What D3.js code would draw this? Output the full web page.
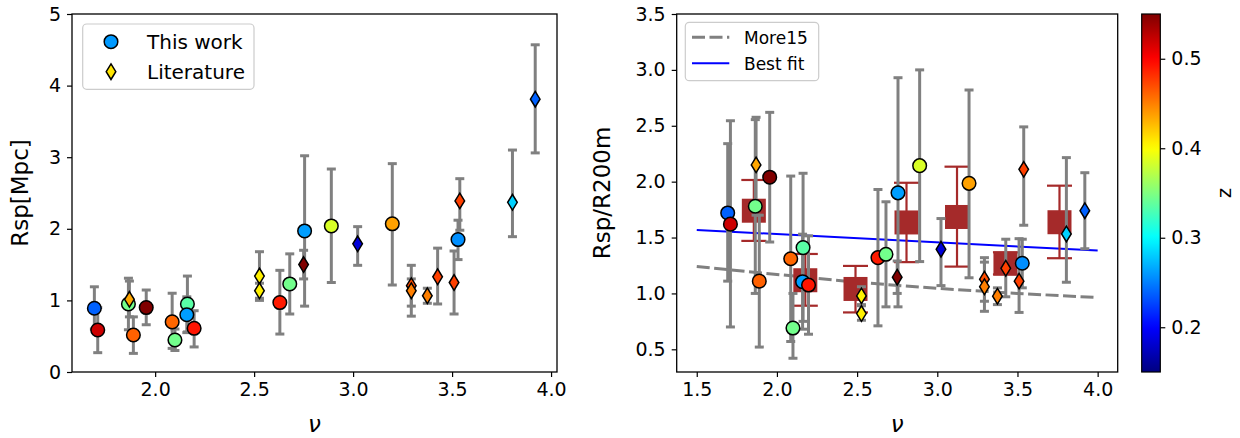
<!DOCTYPE html>
<html><head><meta charset="utf-8">
<script src="https://cdn.jsdelivr.net/npm/d3@7"></script>
<style>
body{margin:0;background:#fff;}
svg text{font-family:"DejaVu Sans",sans-serif;}
</style></head>
<body><svg id="c" width="1240" height="438"></svg>
<script>
// ---- data ----
const kind = ["c","c","c","d","c","c","c","c","c","c","c","d","d","c","c","c","d","c","d","c","d","d","d","d","d","d","c","d","d"];
const nu   = [1.693,1.71,1.865,1.87,1.89,1.955,2.086,2.10,2.163,2.16,2.197,2.527,2.527,2.63,2.68,2.755,2.75,2.89,3.023,3.198,3.294,3.294,3.375,3.427,3.51,3.539,3.53,3.805,3.92];
const zval = [0.238,0.52,0.345,0.435,0.462,0.55,0.46,0.345,0.335,0.262,0.492,0.406,0.406,0.49,0.345,0.262,0.55,0.385,0.185,0.437,0.47,0.45,0.45,0.475,0.475,0.475,0.256,0.282,0.238];
const rspMpc   = [0.89,0.587,0.95,1.015,0.517,0.90,0.70,0.447,0.95,0.80,0.61,1.34,1.135,0.97,1.23,1.97,1.50,2.04,1.79,2.07,1.205,1.135,1.065,1.33,1.25,2.39,1.85,2.37,3.81];
const rspMpcLo = [0.60,0.27,0.59,0.77,0.26,0.66,0.33,0.30,0.56,0.55,0.35,1.00,1.03,0.53,0.81,0.92,1.30,1.25,1.49,1.215,0.92,0.78,0.96,0.95,0.81,1.98,1.57,1.89,3.06];
const rspMpcHi = [1.19,0.90,1.31,1.27,0.77,1.145,1.10,0.60,1.34,1.05,0.856,1.68,1.24,1.42,1.65,3.02,1.70,2.835,2.03,2.91,1.49,1.30,1.17,1.73,1.69,2.70,2.12,3.10,4.57];
const rspR  = [1.72,1.62,1.78,2.15,1.11,2.04,1.31,0.69,1.41,1.105,1.075,0.978,0.82,1.32,1.35,1.90,1.145,2.143,1.395,1.985,1.127,1.06,0.975,1.225,1.11,2.11,1.27,1.532,1.74];
const rspRLo= [1.11,0.70,1.00,1.70,0.52,1.46,0.57,0.42,0.75,0.68,0.635,0.90,0.76,0.71,0.88,0.88,1.00,1.285,1.07,1.14,0.93,0.84,0.90,0.97,0.83,1.61,1.05,1.10,1.40];
const rspRHi= [2.34,2.545,2.555,2.576,1.70,2.62,2.05,1.00,2.075,1.53,1.515,1.06,0.89,1.93,1.82,2.93,1.29,3.00,1.67,2.82,1.32,1.28,1.05,1.485,1.49,2.49,1.485,2.215,2.08];
const binNu = [1.856,2.177,2.49,2.808,3.123,3.425,3.762];
const binR  = [1.74,1.118,1.04,1.635,1.684,1.267,1.637];
const binLo = [1.47,0.89,0.83,1.28,1.24,1.17,1.315];
const binHi = [2.015,1.353,1.246,1.99,2.134,1.368,1.964];
const more15Nu = [1.5,2.0,2.5,3.0,3.5,4.0];
const more15R  = [1.24,1.17,1.10,1.045,1.0,0.963];
const fitNu = [1.5,4.0];
const fitR  = [1.568,1.383];
const leftYTicks = [0,1,2,3,4,5];
const leftXTicks = [2.0,2.5,3.0,3.5,4.0];
const rightYTicks = [0.5,1.0,1.5,2.0,2.5,3.0,3.5];
const rightXTicks = [1.5,2.0,2.5,3.0,3.5,4.0];
const cbTicks = [0.2,0.3,0.4,0.5];
const zRange = [0.15,0.55];

// ---- jet colormap ----
function jet(f){
  f=Math.max(0,Math.min(1,f));
  const r=Math.max(0,Math.min(1,1.5-Math.abs(4*f-3)));
  const g=Math.max(0,Math.min(1,1.5-Math.abs(4*f-2)));
  const b=Math.max(0,Math.min(1,1.5-Math.abs(4*f-1)));
  return d3.rgb(r*255,g*255,b*255).formatHex();
}
const zNorm = d3.scaleLinear(zRange,[0,1]);
const zColor = z=>jet(zNorm(z));

const svg = d3.select("#c");
const FS = 19;
const LFS = 23;

function panel(x0,x1,y0,y1,xd,yd,xt,yt,xfmt,yfmt,ylabel,ylx){
  const x=d3.scaleLinear(xd,[x0,x1]);
  const y=d3.scaleLinear(yd,[y1,y0]);
  const g=svg.append("g");
  const ax=g.append("g").attr("transform",`translate(0,${y1})`)
    .call(d3.axisBottom(x).tickValues(xt).tickFormat(xfmt).tickSizeOuter(0).tickSize(5).tickPadding(6));
  const ay=g.append("g").attr("transform",`translate(${x0},0)`)
    .call(d3.axisLeft(y).tickValues(yt).tickFormat(yfmt).tickSizeOuter(0).tickSize(5).tickPadding(6));
  [ax,ay].forEach(a=>{a.select(".domain").remove();a.selectAll("line").attr("stroke","#000").attr("stroke-width",1.2);
    a.selectAll("text").attr("font-size",FS).attr("fill","#000").attr("font-family","DejaVu Sans");});
  g.append("text").attr("x",(x0+x1)/2).attr("y",432).attr("text-anchor","middle")
    .attr("font-size",LFS).attr("font-style","italic").text("ν");
  g.append("text").attr("transform",`translate(${ylx},${(y0+y1)/2}) rotate(-90)`).attr("text-anchor","middle")
    .attr("font-size",LFS).text(ylabel);
  return {x,y,g,x0,x1,y0,y1};
}
function frame(p){
  svg.append("rect").attr("x",p.x0).attr("y",p.y0).attr("width",p.x1-p.x0).attr("height",p.y1-p.y0)
    .attr("fill","none").attr("stroke","#000").attr("stroke-width",1.3);
}
function marker(g,k,cx,cy,fill){
  if(k==="c"){
    g.append("circle").attr("cx",cx).attr("cy",cy).attr("r",6.8).attr("fill",fill).attr("stroke","#000").attr("stroke-width",1.5);
  } else {
    g.append("path").attr("d",`M${cx},${cy-7.8}L${cx+4.8},${cy}L${cx},${cy+7.8}L${cx-4.8},${cy}Z`)
      .attr("fill",fill).attr("stroke","#000").attr("stroke-width",1.5);
  }
}
function errbar(g,cx,ylo,yhi,color,lw,cap){
  g.append("line").attr("x1",cx).attr("x2",cx).attr("y1",ylo).attr("y2",yhi).attr("stroke",color).attr("stroke-width",lw);
  [ylo,yhi].forEach(v=>g.append("line").attr("x1",cx-cap/2).attr("x2",cx+cap/2).attr("y1",v).attr("y2",v).attr("stroke",color).attr("stroke-width",lw));
}

// ---- left panel ----
const L = panel(72,557,14,372,[1.58,4.03],[0,5],leftXTicks,leftYTicks,d3.format(".1f"),d3.format("d"),"Rsp[Mpc]",28);
const gl = svg.append("g");
nu.forEach((v,i)=>errbar(gl,L.x(v),L.y(rspMpcLo[i]),L.y(rspMpcHi[i]),"#808080",3,9));
nu.forEach((v,i)=>marker(gl,kind[i],L.x(v),L.y(rspMpc[i]),zColor(zval[i])));
frame(L);

// ---- right panel ----
const R = panel(676.7,1117.7,14,372,[1.375,4.125],[0.297,3.5],rightXTicks,rightYTicks,d3.format(".1f"),d3.format(".1f"),"Rsp/R200m",610);
const gr = svg.append("g");
const line = d3.line().x((d)=>R.x(d[0])).y(d=>R.y(d[1]));
gr.append("path").attr("d",line(more15Nu.map((v,i)=>[v,more15R[i]]))).attr("fill","none")
  .attr("stroke","#808080").attr("stroke-width",3).attr("stroke-dasharray","13,4.5");
gr.append("path").attr("d",line(fitNu.map((v,i)=>[v,fitR[i]]))).attr("fill","none")
  .attr("stroke","#0000ff").attr("stroke-width",2);
binNu.forEach((v,i)=>{
  errbar(gr,R.x(v),R.y(binLo[i]),R.y(binHi[i]),"#a52a2a",2.2,25);
  gr.append("rect").attr("x",R.x(v)-12).attr("y",R.y(binR[i])-12).attr("width",24).attr("height",24).attr("fill","#a52a2a");
});
nu.forEach((v,i)=>errbar(gr,R.x(v),R.y(rspRLo[i]),R.y(rspRHi[i]),"#808080",3,9));
nu.forEach((v,i)=>marker(gr,kind[i],R.x(v),R.y(rspR[i]),zColor(zval[i])));
frame(R);

// ---- legends ----
function legendBox(x,y,w,h){
  svg.append("rect").attr("x",x).attr("y",y).attr("width",w).attr("height",h).attr("rx",4)
    .attr("fill","#fff").attr("fill-opacity",0.8).attr("stroke","#cccccc").attr("stroke-width",1.2);
}
legendBox(82.7,24,171.3,65.3);
marker(svg,"c",111,41.7,zColor(0.26));
marker(svg,"d",111,71.7,zColor(0.41));
svg.append("text").attr("x",147).attr("y",48.5).attr("font-size",20).text("This work");
svg.append("text").attr("x",147).attr("y",78.5).attr("font-size",20).text("Literature");

legendBox(685.3,22.3,133.4,58.4);
svg.append("line").attr("x1",692).attr("x2",729.3).attr("y1",37.3).attr("y2",37.3).attr("stroke","#808080").attr("stroke-width",3).attr("stroke-dasharray","13,4.5");
svg.append("line").attr("x1",692).attr("x2",729.3).attr("y1",63.3).attr("y2",63.3).attr("stroke","#0000ff").attr("stroke-width",2);
svg.append("text").attr("x",744).attr("y",43.5).attr("font-size",17).text("More15");
svg.append("text").attr("x",744).attr("y",69.5).attr("font-size",17).text("Best fit");

// ---- colorbar ----
const cbX0=1141.7, cbX1=1160.3, cbY0=14, cbY1=372;
const defs=svg.append("defs");
const grad=defs.append("linearGradient").attr("id","jetg").attr("x1",0).attr("x2",0).attr("y1",1).attr("y2",0);
d3.range(0,1.0001,0.02).forEach(f=>grad.append("stop").attr("offset",f).attr("stop-color",jet(f)));
svg.append("rect").attr("x",cbX0).attr("y",cbY0).attr("width",cbX1-cbX0).attr("height",cbY1-cbY0).attr("fill","url(#jetg)")
  .attr("stroke","#000").attr("stroke-width",1.2);
const cbScale=d3.scaleLinear(zRange,[cbY1,cbY0]);
const cba=svg.append("g").attr("transform",`translate(${cbX1},0)`)
  .call(d3.axisRight(cbScale).tickValues(cbTicks).tickFormat(d3.format(".1f")).tickSizeOuter(0).tickSize(5).tickPadding(6));
cba.select(".domain").remove();
cba.selectAll("line").attr("stroke","#000").attr("stroke-width",1.2);
cba.selectAll("text").attr("font-size",FS).attr("fill","#000").attr("font-family","DejaVu Sans");
svg.append("text").attr("transform",`translate(1231,193) rotate(-90)`).attr("text-anchor","middle").attr("font-size",FS).text("z");
</script></body></html>
